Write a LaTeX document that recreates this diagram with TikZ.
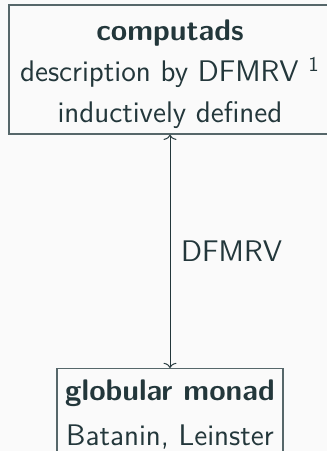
\documentclass[tikz,border=0pt]{standalone}
\usetikzlibrary{arrows.meta}
\definecolor{fg}{HTML}{23373B}
\definecolor{rim}{HTML}{56676A}
\definecolor{bg}{HTML}{FAFAFA}
\begin{document}
\begin{tikzpicture}[x=0.5pt,y=-0.5pt,
    box/.style={draw=rim, line width=0.7pt, text=fg, align=center, inner sep=0pt,
      font=\sffamily\fontsize{14.9}{20.5}\selectfont},
    link/.style={fg, line width=0.5pt,
      {Computer Modern Rightarrow[width=6.5pt,length=2.6pt]}-{Computer Modern Rightarrow[width=6.5pt,length=2.6pt]}}]
    \fill[bg] (0,0) rectangle (327,451);
    \useasboundingbox (0,0) rectangle (327,451);
    \clip (0,0) rectangle (327,451);
    % the two boxes
    \node[box, minimum width=161pt, minimum height=64.5pt] (cmp) at (170,69.5)
        {\rule{0pt}{15.3pt}\textbf{computads}\\description by DFMRV \textsuperscript{1}\\inductively defined};
    \node[box, minimum width=113pt, anchor=north, inner ysep=5.6pt, font=\sffamily\fontsize{14.9}{22.5}\selectfont] (glob) at (170,368)
        {\textbf{globular monad}\\Batanin, Leinster};
    % the link
    \draw[link] (cmp.south) -- (glob.north)
        node[midway, right=2pt, text=fg, font=\sffamily\fontsize{14.9}{17}\selectfont] (lbl) {DFMRV};
\end{tikzpicture}
\end{document}
